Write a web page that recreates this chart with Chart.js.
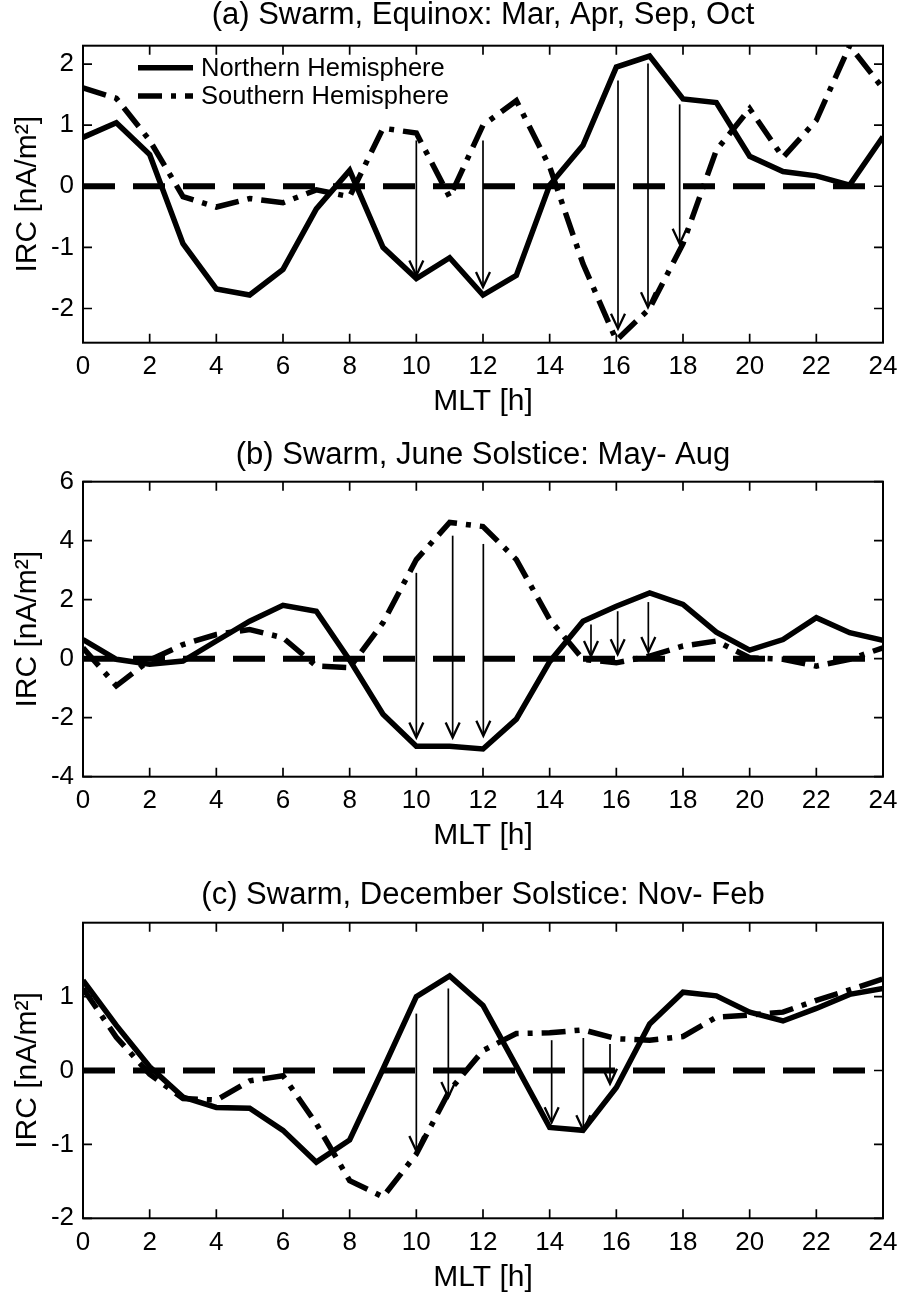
<!DOCTYPE html>
<html>
<head>
<meta charset="utf-8">
<script src="https://cdn.jsdelivr.net/npm/chart.js@4.4.1/dist/chart.umd.min.js"></script>
<style>
  html, body { margin: 0; padding: 0; background: #fff; }
  #wrap { position: relative; width: 898px; height: 1299px; }
  canvas { position: absolute; left: 0; }
</style>
</head>
<body>
<div id="wrap">
  <canvas id="panelA" width="898" height="430" style="top:0px"></canvas>
  <canvas id="panelB" width="898" height="430" style="top:430px"></canvas>
  <canvas id="panelC" width="898" height="439" style="top:860px"></canvas>
</div>
<script>
// MLT hours and tick marks
const hours = [0, 1, 2, 3, 4, 5, 6, 7, 8, 9, 10, 11, 12, 13, 14, 15, 16, 17, 18, 19, 20, 21, 22, 23, 24];
const xTicks = [0, 2, 4, 6, 8, 10, 12, 14, 16, 18, 20, 22, 24];
const zeroX = [0, 23.5];
const zeroY = [0, 0];
const seriesNames = ['Northern Hemisphere', 'Southern Hemisphere'];

// (a) Equinox
const northA = [0.80, 1.04, 0.52, -0.94, -1.68, -1.78, -1.36, -0.37, 0.26, -1.00, -1.51, -1.17, -1.78, -1.46, 0.02, 0.67, 1.95, 2.13, 1.43, 1.37, 0.49, 0.24, 0.17, 0.02, 0.81];
const southA = [1.61, 1.44, 0.75, -0.17, -0.34, -0.20, -0.27, -0.06, -0.17, 0.95, 0.87, -0.18, 1.00, 1.40, 0.32, -1.27, -2.52, -2.00, -0.94, 0.59, 1.27, 0.47, 1.08, 2.30, 1.60];
const yTicksA = [-2, -1, 0, 1, 2];
const arrowXA = [10, 12, 16.05, 16.95, 17.9];
const arrowFromA = [0.75, 0.75, 1.73, 2.01, 1.34];
const arrowToA = [-1.46, -1.65, -2.33, -1.98, -0.94];

// (b) June solstice
const northB = [0.65, -0.02, -0.19, -0.08, 0.60, 1.27, 1.81, 1.61, -0.05, -1.88, -2.97, -2.97, -3.06, -2.05, -0.10, 1.27, 1.78, 2.23, 1.84, 0.90, 0.29, 0.65, 1.39, 0.88, 0.62];
const southB = [0.37, -0.92, -0.05, 0.48, 0.82, 0.99, 0.71, -0.25, -0.30, 1.22, 3.36, 4.62, 4.48, 3.36, 1.33, -0.02, -0.14, 0.09, 0.43, 0.60, 0.03, -0.02, -0.25, -0.02, 0.37];
const yTicksB = [-4, -2, 0, 2, 4, 6];
const arrowXB = [10, 11.09, 12.01, 15.24, 16.04, 16.96];
const arrowFromB = [2.91, 4.17, 3.89, 1.16, 1.61, 1.92];
const arrowToB = [-2.67, -2.67, -2.61, 0.09, 0.15, 0.23];

// (c) December solstice
const northC = [1.22, 0.61, 0.05, -0.36, -0.50, -0.51, -0.81, -1.24, -0.94, 0.02, 1.00, 1.28, 0.88, 0.06, -0.77, -0.81, -0.23, 0.63, 1.06, 1.01, 0.79, 0.67, 0.84, 1.03, 1.11];
const southC = [1.11, 0.45, -0.05, -0.38, -0.40, -0.14, -0.07, -0.72, -1.49, -1.71, -1.13, -0.27, 0.27, 0.50, 0.51, 0.55, 0.43, 0.41, 0.46, 0.72, 0.75, 0.79, 0.95, 1.09, 1.24];
const yTicksC = [-2, -1, 0, 1];
const arrowXC = [10, 10.96, 14.06, 15.01, 15.81];
const arrowFromC = [0.77, 1.11, 0.41, 0.44, 0.36];
const arrowToC = [-1.09, -0.36, -0.70, -0.81, -0.18];

const FONT = '"Liberation Sans", Arial, Helvetica, sans-serif';
Chart.defaults.color = '#000';
Chart.defaults.font.family = FONT;

const DASH_DOT = [24, 9, 5, 9];
const ZERO_DASH = [32, 18];

// box, inward ticks, arrows and the inset legend
const panelDecor = {
    id: 'panelDecor',
    afterDatasetsDraw(chart, args, opts) {
        const { ctx, chartArea: a, scales: { x, y } } = chart;
        ctx.save();
        ctx.strokeStyle = '#000';
        ctx.lineCap = 'butt';

        // arrows between hemispheres
        (opts.arrowX || []).forEach((ax, i) => {
            const px = x.getPixelForValue(ax);
            const p1 = y.getPixelForValue(opts.arrowFrom[i]);
            const p2 = y.getPixelForValue(opts.arrowTo[i]);
            const dir = p2 > p1 ? 1 : -1;
            ctx.lineWidth = 1.7;
            ctx.beginPath();
            ctx.moveTo(px, p1);
            ctx.lineTo(px, p2);
            ctx.stroke();
            ctx.lineWidth = 2.3;
            ctx.beginPath();
            ctx.moveTo(px - 7, p2 - dir * 15);
            ctx.lineTo(px, p2);
            ctx.lineTo(px + 7, p2 - dir * 15);
            ctx.stroke();
        });

        // axes box
        ctx.lineWidth = 2;
        ctx.strokeRect(a.left, a.top, a.right - a.left, a.bottom - a.top);

        // inward ticks on all four sides
        const tl = 9;
        ctx.lineWidth = 1.7;
        ctx.beginPath();
        x.ticks.forEach(t => {
            const px = x.getPixelForValue(t.value);
            ctx.moveTo(px, a.bottom); ctx.lineTo(px, a.bottom - tl);
            ctx.moveTo(px, a.top); ctx.lineTo(px, a.top + tl);
        });
        y.ticks.forEach(t => {
            const py = y.getPixelForValue(t.value);
            ctx.moveTo(a.left, py); ctx.lineTo(a.left + tl, py);
            ctx.moveTo(a.right, py); ctx.lineTo(a.right - tl, py);
        });
        ctx.stroke();

        // legend inside panel (a)
        if (opts.legend) {
            const rows = [67.7, 96];
            chart.data.datasets.slice(0, 2).forEach((ds, i) => {
                const ly = rows[i];
                ctx.beginPath();
                ctx.setLineDash(ds.borderDash || []);
                ctx.lineWidth = ds.borderWidth;
                ctx.moveTo(138, ly);
                ctx.lineTo(193, ly);
                ctx.stroke();
                ctx.setLineDash([]);
                ctx.fillStyle = '#000';
                ctx.font = '25.5px ' + FONT;
                ctx.textAlign = 'left';
                ctx.textBaseline = 'middle';
                ctx.fillText(ds.label, 201, ly + 1);
            });
        }
        ctx.restore();
    }
};

function toPoints(xs, ys) {
    return xs.map((v, i) => ({ x: v, y: ys[i] }));
}

function makePanel(id, p) {
    const canvas = document.getElementById(id);
    return new Chart(canvas.getContext('2d'), {
        type: 'line',
        data: {
            datasets: [
                {
                    label: seriesNames[0],
                    data: toPoints(hours, p.north),
                    borderColor: '#000',
                    borderWidth: 5.5,
                    pointRadius: 0,
                    tension: 0
                },
                {
                    label: seriesNames[1],
                    data: toPoints(hours, p.south),
                    borderColor: '#000',
                    borderWidth: 5.5,
                    borderDash: DASH_DOT,
                    pointRadius: 0,
                    tension: 0
                },
                {
                    label: 'zero',
                    data: toPoints(zeroX, zeroY),
                    borderColor: '#000',
                    borderWidth: 6,
                    borderDash: ZERO_DASH,
                    pointRadius: 0
                }
            ]
        },
        options: {
            responsive: false,
            animation: false,
            devicePixelRatio: 1,
            layout: { padding: { left: 0, right: 15, top: 0, bottom: 0 } },
            plugins: {
                legend: { display: false },
                tooltip: { enabled: false },
                title: {
                    display: true,
                    text: p.title,
                    fullSize: false,
                    font: { size: 31, weight: 'normal', lineHeight: 1 },
                    padding: { top: p.titleTop, bottom: p.titleBottom }
                },
                panelDecor: {
                    arrowX: p.arrowX,
                    arrowFrom: p.arrowFrom,
                    arrowTo: p.arrowTo,
                    legend: p.legend
                }
            },
            scales: {
                x: {
                    type: 'linear',
                    min: 0,
                    max: 24,
                    grid: { display: false, drawTicks: false },
                    border: { display: false },
                    ticks: { font: { size: 26 }, padding: 8.7, maxRotation: 0 },
                    title: {
                        display: true,
                        text: 'MLT [h]',
                        font: { size: 30 },
                        padding: { top: 0, bottom: p.xh - 77 }
                    },
                    afterBuildTicks: s => { s.ticks = xTicks.map(v => ({ value: v })); },
                    afterFit: s => {
                        s.height = p.xh;
                        s.paddingLeft = 0;
                        s.paddingRight = 0;
                    }
                },
                y: {
                    type: 'linear',
                    min: p.yMin,
                    max: p.yMax,
                    grid: { display: false, drawTicks: false },
                    border: { display: false },
                    ticks: { font: { size: 26 }, padding: 9 },
                    title: {
                        display: true,
                        text: 'IRC [nA/m²]',
                        font: { size: 30 },
                        padding: { top: 10, bottom: 0 }
                    },
                    afterBuildTicks: s => { s.ticks = p.yTicks.map(v => ({ value: v })); },
                    afterFit: s => {
                        s.width = 83;
                        s.paddingTop = 0;
                        s.paddingBottom = 0;
                    }
                }
            }
        },
        plugins: [panelDecor]
    });
}

makePanel('panelA', {
    title: '(a) Swarm, Equinox: Mar, Apr, Sep, Oct',
    north: northA, south: southA,
    yMin: -2.56, yMax: 2.30, yTicks: yTicksA,
    arrowX: arrowXA, arrowFrom: arrowFromA, arrowTo: arrowToA,
    titleTop: 0.3, titleBottom: 14.4, xh: 87.3, legend: true
});

makePanel('panelB', {
    title: '(b) Swarm, June Solstice: May- Aug',
    north: northB, south: southB,
    yMin: -4, yMax: 6, yTicks: yTicksB,
    arrowX: arrowXB, arrowFrom: arrowFromB, arrowTo: arrowToB,
    titleTop: 10.1, titleBottom: 10.6, xh: 83.3, legend: false
});

makePanel('panelC', {
    title: '(c) Swarm, December Solstice: Nov- Feb',
    north: northC, south: southC,
    yMin: -2, yMax: 2, yTicks: yTicksC,
    arrowX: arrowXC, arrowFrom: arrowFromC, arrowTo: arrowToC,
    titleTop: 19.5, titleBottom: 12.2, xh: 80.7, legend: false
});
</script>
</body>
</html>
